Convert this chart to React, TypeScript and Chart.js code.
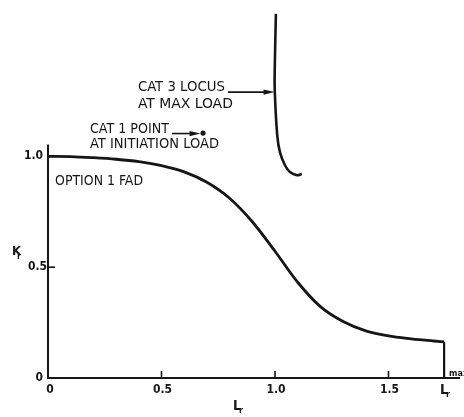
import React, { useEffect, useRef } from "react";
import { Chart, registerables } from "chart.js";
Chart.register(...registerables);

// Option 1 FAD curve (Lr, Kr)
const fadLr = [0, 0.1, 0.2, 0.3, 0.4, 0.5, 0.6, 0.7, 0.8, 0.9, 1.0, 1.1, 1.2, 1.3, 1.4, 1.5, 1.6, 1.7, 1.745];
const fadKr = [1.0, 0.999, 0.994, 0.987, 0.976, 0.958, 0.93, 0.883, 0.811, 0.705, 0.572, 0.432, 0.322, 0.255, 0.213, 0.19, 0.177, 0.167, 0.163];
// Lr max cut-off
const lrMax = 1.745;
const lrMaxKr = [0.163, 0];
// Category 3 locus at max load
const cat3Lr = [1.004, 0.999, 0.999, 1.010, 1.022, 1.044, 1.066, 1.096, 1.118];
const cat3Kr = [1.643, 1.40, 1.295, 1.094, 1.018, 0.960, 0.929, 0.915, 0.920];
// Category 1 point at initiation load
const cat1Lr = [0.683];
const cat1Kr = [1.105];
// Axis ticks
const xTicks = [0, 0.5, 1.0, 1.5];
const xTickLabels = ["0", "0.5", "1.0", "1.5"];
const yTicks = [0, 0.5, 1.0];
const yTickLabels = ["0", "0.5", "1.0"];
const xAxisEnd = 1.815;
const yAxisEnd = 1.054;

const INK = "#161616";
const FONT = '"Liberation Sans Narrow", "DejaVu Sans Condensed", "Liberation Sans", sans-serif';

function fitText(ctx: CanvasRenderingContext2D, text: string, x: number, yc: number, width: number | null, size: number, align: "left" | "center" | "right" = "left", weight = "normal") {
  ctx.save();
  ctx.font = `${weight} ${size}px ${FONT}`;
  ctx.fillStyle = INK;
  ctx.textBaseline = "alphabetic";
  const w = ctx.measureText(text).width;
  const sx = width ? width / w : 1;
  const real = w * sx;
  let left = x;
  if (align === "center") left = x - real / 2;
  if (align === "right") left = x - real;
  ctx.translate(left, yc + size * 0.36);
  ctx.scale(sx, 1);
  ctx.textAlign = "left";
  ctx.fillText(text, 0, 0);
  ctx.restore();
}

function arrow(ctx: CanvasRenderingContext2D, x1: number, y1: number, x2: number, y2: number) {
  ctx.save();
  ctx.strokeStyle = INK;
  ctx.fillStyle = INK;
  ctx.lineWidth = 1.6;
  ctx.beginPath();
  ctx.moveTo(x1, y1);
  ctx.lineTo(x2 - 8, y2);
  ctx.stroke();
  ctx.beginPath();
  ctx.moveTo(x2, y2);
  ctx.lineTo(x2 - 11, y2 - 2.6);
  ctx.lineTo(x2 - 11, y2 + 2.6);
  ctx.closePath();
  ctx.fill();
  ctx.restore();
}

const axesPlugin = {
  id: "fadAxes",
  beforeDatasetsDraw(chart: any) {
    const ctx: CanvasRenderingContext2D = chart.ctx;
    const xs = chart.scales.x;
    const ys = chart.scales.y;
    const x0 = xs.getPixelForValue(0);
    const y0 = ys.getPixelForValue(0);
    ctx.save();
    ctx.strokeStyle = INK;
    ctx.lineWidth = 2;
    ctx.lineCap = "butt";
    ctx.beginPath();
    ctx.moveTo(x0, ys.getPixelForValue(yAxisEnd));
    ctx.lineTo(x0, y0);
    ctx.lineTo(xs.getPixelForValue(xAxisEnd), y0);
    ctx.stroke();
    ctx.lineWidth = 1.6;
    xTicks.forEach((t) => {
      if (t === 0) return;
      const px = xs.getPixelForValue(t);
      ctx.beginPath();
      ctx.moveTo(px, y0);
      ctx.lineTo(px, y0 - 7);
      ctx.stroke();
    });
    yTicks.forEach((t) => {
      if (t === 0) return;
      const py = ys.getPixelForValue(t);
      ctx.beginPath();
      ctx.moveTo(x0, py);
      ctx.lineTo(x0 + 7, py);
      ctx.stroke();
    });
    ctx.restore();
  },
  afterDraw(chart: any) {
    const ctx: CanvasRenderingContext2D = chart.ctx;
    const xs = chart.scales.x;
    const ys = chart.scales.y;
    const X = (v: number) => xs.getPixelForValue(v);
    const Y = (v: number) => ys.getPixelForValue(v);
    const x0 = X(0);
    const y0 = Y(0);
    // tick labels
    xTicks.forEach((t, i) => {
      fitText(ctx, xTickLabels[i], X(t) + (t === 0 ? 2 : 1), y0 + 11, null, 12, "center", "bold");
    });
    yTicks.forEach((t, i) => {
      fitText(ctx, yTickLabels[i], x0 - (t === 0.5 ? 1 : 5), Y(t) - 1.5, null, 12, "right", "bold");
    });
    // Lr max label
    fitText(ctx, "L", X(lrMax) - 4, y0 + 11, null, 14, "left", "bold");
    fitText(ctx, "r", X(lrMax) + 2, y0 + 16, null, 9, "left", "bold");
    fitText(ctx, "max", X(lrMax) + 5, y0 - 5, null, 9, "left", "bold");
    // axis titles
    fitText(ctx, "L", X(0.833) - 4, y0 + 27, null, 14, "left", "bold");
    fitText(ctx, "r", X(0.833) + 2, y0 + 32, null, 9, "left", "bold");
    fitText(ctx, "K", x0 - 36, Y(0.575), null, 13, "left", "bold");
    fitText(ctx, "r", x0 - 31, Y(0.553), null, 9, "left", "bold");
    // annotations
    fitText(ctx, "CAT 3 LOCUS", X(0.396), Y(1.317), 87, 14);
    fitText(ctx, "AT MAX LOAD", X(0.396), Y(1.241), 95, 14);
    arrow(ctx, X(0.793), Y(1.29), X(0.998), Y(1.29));
    fitText(ctx, "CAT 1 POINT", X(0.185), Y(1.129), 79, 14);
    fitText(ctx, "AT INITIATION LOAD", X(0.185), Y(1.06), 129, 14);
    arrow(ctx, X(0.546), Y(1.103), X(0.672), Y(1.103));
    fitText(ctx, "OPTION 1 FAD", X(0.031), Y(0.895), 88, 14);
  },
};

export default function App() {
  const ref = useRef<HTMLCanvasElement>(null);
  useEffect(() => {
    const chart = new Chart(ref.current as HTMLCanvasElement, {
      type: "line",
      data: {
        datasets: [
          {
            data: fadLr.map((x, i) => ({ x, y: fadKr[i] })),
            borderColor: INK,
            borderWidth: 2.8,
            pointRadius: 0,
            cubicInterpolationMode: "monotone",
            fill: false,
            clip: false,
          } as any,
          {
            data: lrMaxKr.map((y) => ({ x: lrMax, y })),
            borderColor: INK,
            borderWidth: 2.2,
            pointRadius: 0,
            tension: 0,
            clip: false,
          } as any,
          {
            data: cat3Lr.map((x, i) => ({ x, y: cat3Kr[i] })),
            borderColor: INK,
            borderWidth: 2.6,
            pointRadius: 0,
            tension: 0.4,
            clip: false,
          } as any,
          {
            data: cat1Lr.map((x, i) => ({ x, y: cat1Kr[i] })),
            showLine: false,
            pointRadius: 2.6,
            pointBackgroundColor: INK,
            pointBorderWidth: 0,
            clip: false,
          } as any,
        ],
      },
      options: {
        animation: false,
        responsive: false,
        devicePixelRatio: 1,
        layout: { padding: { left: 48, right: 4, top: 0, bottom: 39 } },
        plugins: { legend: { display: false }, tooltip: { enabled: false } },
        events: [],
        scales: {
          x: { type: "linear", min: 0, max: xAxisEnd, display: false },
          y: { type: "linear", min: 0, max: 1.6875, display: false },
        },
      },
      plugins: [axesPlugin],
    } as any);
    return () => chart.destroy();
  }, []);
  return (
    <div style={{ position: "fixed", left: 0, top: 0, width: 464, height: 417, background: "#fff" }}>
      <canvas ref={ref} width={464} height={417} style={{ width: 464, height: 417, display: "block" }} />
    </div>
  );
}
